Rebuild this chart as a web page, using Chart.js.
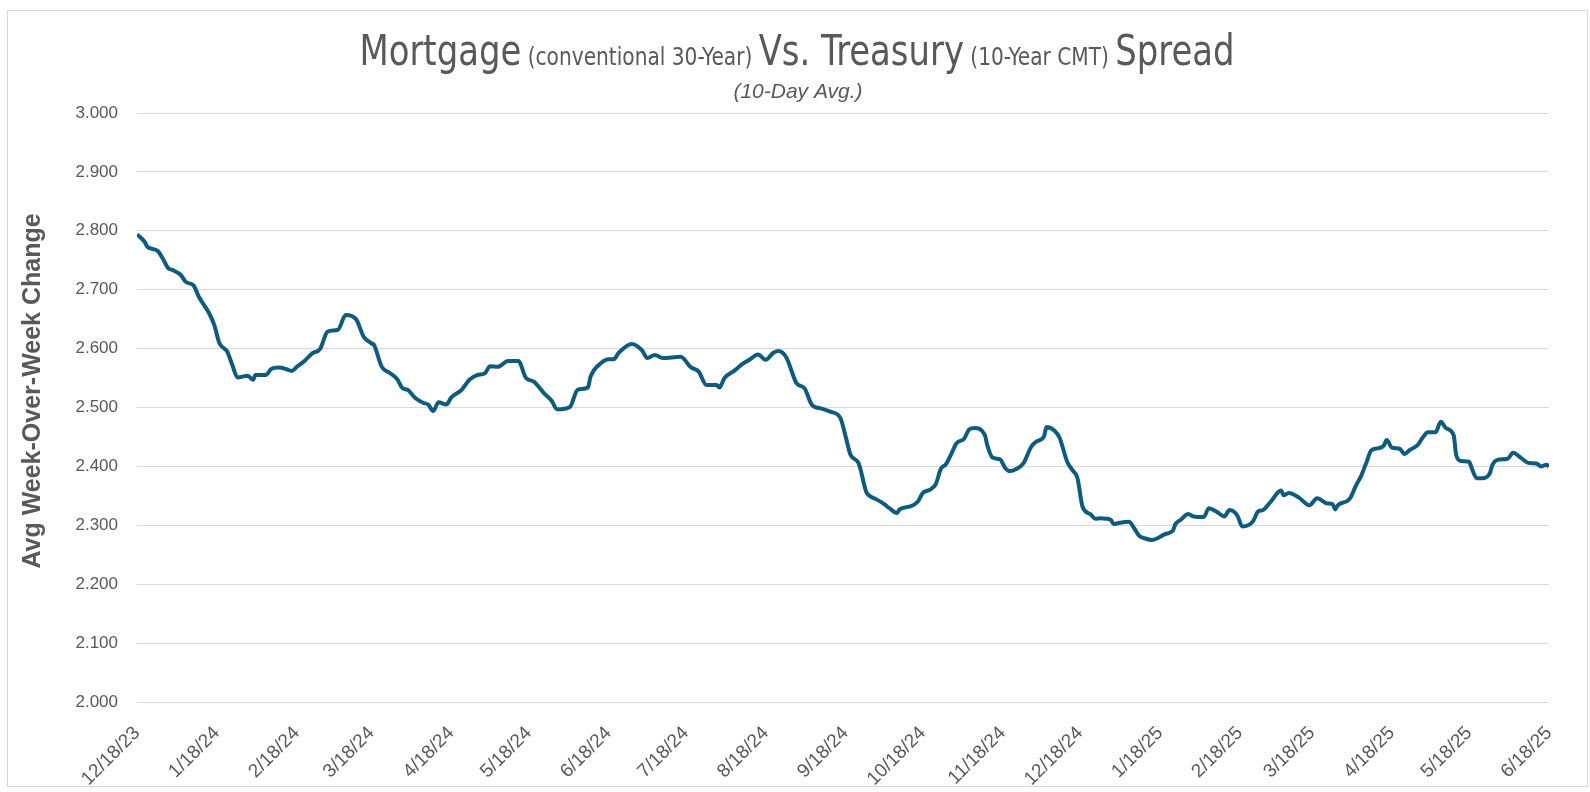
<!DOCTYPE html>
<html>
<head>
<meta charset="utf-8">
<title>Mortgage vs Treasury Spread</title>
<script src="https://cdn.jsdelivr.net/npm/chart.js@4.4.1/dist/chart.umd.min.js"></script>
<style>
  html, body { margin: 0; padding: 0; background: #fff; }
  #wrap { width: 1590px; height: 792px; }
</style>
</head>
<body>
<div id="wrap"><canvas id="spreadChart"></canvas></div>
<script>
// days after 12/18/23
const dayOffsets = [
  0, 3, 4, 8, 10, 12, 14, 17, 19, 22, 24, 26, 28, 30, 32, 35, 37, 39, 43, 45,
  46, 50, 52, 55, 58, 60, 62, 65, 68, 71, 74, 78, 81, 85, 88, 91, 92, 95, 98, 101,
  103, 105, 108, 111, 113, 115, 117, 120, 122, 126, 129, 132, 135, 137, 140, 144, 148, 151, 154, 158,
  161, 163, 168, 171, 175, 176, 180, 183, 185, 187, 192, 196, 198, 201, 204, 211, 215, 218, 221, 225,
  226, 228, 232, 235, 238, 241, 244, 247, 249, 252, 256, 259, 262, 265, 269, 273, 275, 277, 280, 283,
  284, 287, 290, 292, 295, 296, 300, 303, 305, 308, 310, 312, 314, 316, 318, 321, 323, 325, 329, 330,
  332, 335, 336, 337, 339, 341, 344, 347, 349, 352, 353, 356, 358, 361, 363, 365, 367, 370, 372, 374,
  378, 379, 381, 385, 387, 389, 391, 394, 396, 399, 402, 403, 405, 408, 410, 414, 416, 419, 422, 424,
  427, 429, 433, 435, 437, 440, 444, 445, 447, 451, 455, 458, 462, 464, 465, 466, 470, 471, 473, 475,
  477, 479, 482, 484, 485, 487, 490, 492, 494, 497, 499, 501, 504, 506, 508, 511, 512, 514, 517, 518,
  520, 522, 525, 526, 528, 532, 534, 537, 540, 543, 545, 547, 548
];
const spreadValues = [
  2.794, 2.781, 2.773, 2.766, 2.753, 2.737, 2.733, 2.725, 2.713, 2.707, 2.688, 2.674, 2.660, 2.640, 2.609, 2.595, 2.572, 2.551, 2.554, 2.547,
  2.555, 2.555, 2.565, 2.568, 2.565, 2.562, 2.569, 2.579, 2.592, 2.599, 2.629, 2.632, 2.657, 2.650, 2.620, 2.609, 2.606, 2.569, 2.559, 2.548,
  2.533, 2.530, 2.516, 2.508, 2.505, 2.494, 2.509, 2.505, 2.517, 2.530, 2.547, 2.555, 2.558, 2.570, 2.569, 2.579, 2.579, 2.550, 2.544, 2.524,
  2.511, 2.497, 2.501, 2.530, 2.534, 2.552, 2.575, 2.582, 2.582, 2.593, 2.608, 2.597, 2.584, 2.589, 2.584, 2.586, 2.568, 2.561, 2.538, 2.538,
  2.534, 2.550, 2.563, 2.574, 2.582, 2.590, 2.581, 2.593, 2.596, 2.585, 2.541, 2.533, 2.504, 2.499, 2.493, 2.482, 2.451, 2.419, 2.406, 2.357,
  2.351, 2.344, 2.336, 2.329, 2.321, 2.327, 2.332, 2.340, 2.355, 2.361, 2.370, 2.396, 2.404, 2.421, 2.439, 2.447, 2.463, 2.465, 2.454, 2.436,
  2.415, 2.412, 2.405, 2.397, 2.392, 2.395, 2.405, 2.433, 2.442, 2.451, 2.467, 2.461, 2.449, 2.408, 2.394, 2.380, 2.331, 2.319, 2.311, 2.312,
  2.309, 2.302, 2.304, 2.306, 2.295, 2.282, 2.278, 2.275, 2.278, 2.285, 2.291, 2.302, 2.309, 2.319, 2.315, 2.314, 2.329, 2.323, 2.315, 2.326,
  2.317, 2.298, 2.306, 2.323, 2.326, 2.340, 2.359, 2.351, 2.355, 2.347, 2.334, 2.346, 2.337, 2.336, 2.327, 2.334, 2.342, 2.347, 2.367, 2.383,
  2.405, 2.427, 2.431, 2.436, 2.445, 2.432, 2.430, 2.421, 2.428, 2.436, 2.449, 2.458, 2.458, 2.476, 2.465, 2.453, 2.419, 2.409, 2.408, 2.397,
  2.380, 2.380, 2.388, 2.402, 2.411, 2.413, 2.423, 2.415, 2.406, 2.405, 2.400, 2.403, 2.400
];
const tickLabels = [
  "12/18/23", "1/18/24", "2/18/24", "3/18/24", "4/18/24", "5/18/24", "6/18/24",
  "7/18/24", "8/18/24", "9/18/24", "10/18/24", "11/18/24", "12/18/24", "1/18/25",
  "2/18/25", "3/18/25", "4/18/25", "5/18/25", "6/18/25"
];
const yTicks = [2.0, 2.1, 2.2, 2.3, 2.4, 2.5, 2.6, 2.7, 2.8, 2.9, 3.0];

const titleRuns = [
  { text: "Mortgage", size: 42 },
  { text: " (conventional 30-Year) ", size: 25 },
  { text: "Vs. Treasury", size: 42 },
  { text: " (10-Year CMT) ", size: 25 },
  { text: "Spread", size: 42 }
];
const subTitle = "(10-Day Avg.)";
const yTitle = "Avg Week-Over-Week Change";

function dayOf(label) {
  const p = label.split("/").map(Number);
  return Math.round((Date.UTC(2000 + p[2], p[0] - 1, p[1]) - Date.UTC(2023, 11, 18)) / 86400000);
}
const tickDays = tickLabels.map(dayOf);

const gray = "#595959";
const sans = "'Liberation Sans', Arial, sans-serif";
const narrow = "'Liberation Sans Narrow', 'DejaVu Sans Condensed', 'Liberation Sans', sans-serif";

const frame = {
  id: "frame",
  beforeDraw(chart) {
    const ctx = chart.ctx;
    ctx.save();
    ctx.fillStyle = "#fff";
    ctx.fillRect(0, 0, chart.width, chart.height);
    ctx.strokeStyle = "#d9d9d9";
    ctx.lineWidth = 1;
    ctx.strokeRect(7.5, 10.5, 1580, 776);
    ctx.restore();
  },
  afterDraw(chart) {
    const ctx = chart.ctx;
    ctx.save();
    ctx.fillStyle = gray;
    ctx.textBaseline = "alphabetic";
    ctx.textAlign = "left";
    // mixed-size title, squeezed to the narrow look of the original
    let total = 0;
    titleRuns.forEach(r => {
      ctx.font = r.size + "px " + narrow;
      r.w = ctx.measureText(r.text).width;
      total += r.w;
    });
    const squeeze = Math.min(1, 875 / total);
    ctx.save();
    ctx.translate(797, 65);
    ctx.scale(squeeze, 1);
    let x = -total / 2;
    titleRuns.forEach(r => {
      ctx.font = r.size + "px " + narrow;
      ctx.fillText(r.text, x, 0);
      x += r.w;
    });
    ctx.restore();

    ctx.font = "italic 21px " + sans;
    ctx.textAlign = "center";
    ctx.fillText(subTitle, 798, 98);

    ctx.save();
    ctx.translate(33, 391);
    ctx.rotate(-Math.PI / 2);
    ctx.font = "bold 25px " + sans;
    ctx.textBaseline = "middle";
    ctx.fillText(yTitle, 0, 0);
    ctx.restore();
    ctx.restore();
  }
};

const ctx = document.getElementById("spreadChart").getContext("2d");
new Chart(ctx, {
  type: "line",
  data: {
    datasets: [{
      label: "Spread",
      data: dayOffsets.map((d, i) => ({ x: d, y: spreadValues[i] })),
      borderColor: "#0f5b7d",
      borderWidth: 4,
      pointRadius: 0,
      fill: false,
      cubicInterpolationMode: "monotone"
    }]
  },
  options: {
    responsive: true,
    maintainAspectRatio: false,
    animation: false,
    layout: { padding: { top: 113, left: 7, right: 41, bottom: 5 } },
    plugins: {
      legend: { display: false },
      tooltip: { enabled: false },
      title: { display: false }
    },
    scales: {
      x: {
        type: "linear",
        min: 0,
        max: tickDays[tickDays.length - 1],
        afterBuildTicks(scale) {
          scale.ticks = tickDays.map(v => ({ value: v }));
        },
        afterFit(scale) { scale.height = 792 - 5 - 702; },
        grid: { display: false, drawTicks: false },
        border: { display: false },
        ticks: {
          autoSkip: false,
          minRotation: 45,
          maxRotation: 45,
          padding: 20,
          color: gray,
          font: { family: sans, size: 19 },
          callback(value) {
            const i = tickDays.indexOf(value);
            return i >= 0 ? tickLabels[i] : "";
          }
        }
      },
      y: {
        min: 2,
        max: 3,
        afterBuildTicks(scale) {
          scale.ticks = yTicks.map(v => ({ value: v }));
        },
        afterFit(scale) { scale.width = 137 - 7; },
        grid: { color: "#d9d9d9", lineWidth: 1, drawTicks: false },
        border: { display: false },
        ticks: {
          padding: 19,
          color: gray,
          font: { family: sans, size: 17 },
          callback: v => Number(v).toFixed(3)
        }
      }
    }
  },
  plugins: [frame]
});
</script>
</body>
</html>
